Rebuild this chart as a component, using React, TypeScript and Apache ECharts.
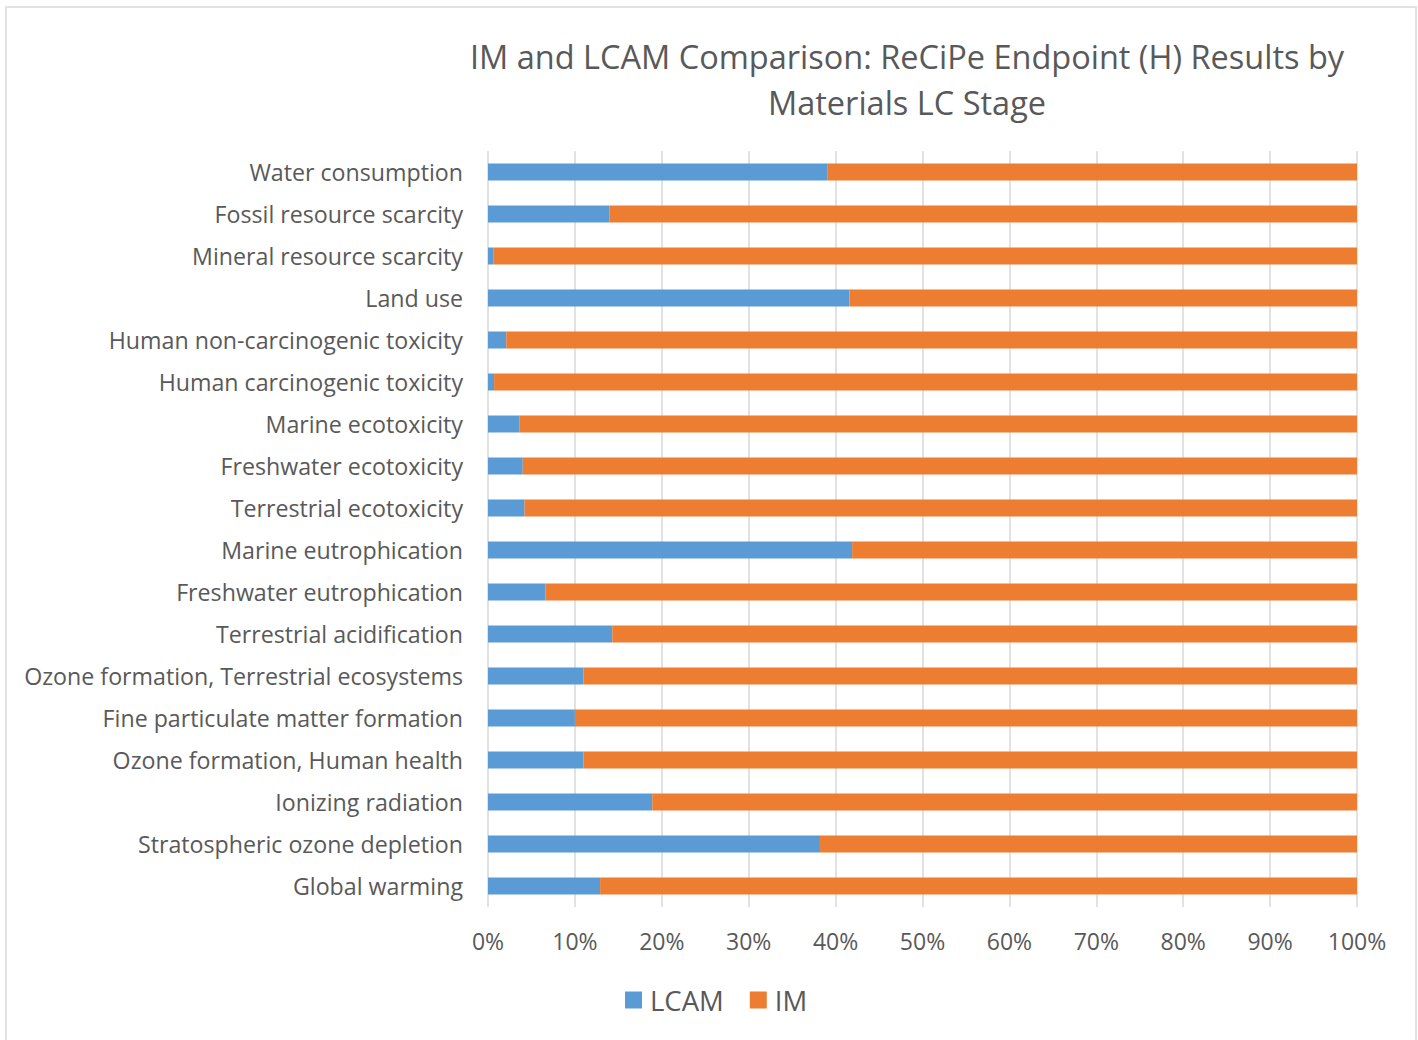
import React, { useEffect, useRef } from "react";
import * as echarts from "echarts";

// Impact categories, listed top to bottom as drawn
const categories = [
  "Water consumption",
  "Fossil resource scarcity",
  "Mineral resource scarcity",
  "Land use",
  "Human non-carcinogenic toxicity",
  "Human carcinogenic toxicity",
  "Marine ecotoxicity",
  "Freshwater ecotoxicity",
  "Terrestrial ecotoxicity",
  "Marine eutrophication",
  "Freshwater eutrophication",
  "Terrestrial acidification",
  "Ozone formation, Terrestrial ecosystems",
  "Fine particulate matter formation",
  "Ozone formation, Human health",
  "Ionizing radiation",
  "Stratospheric ozone depletion",
  "Global warming",
];

// Share of each category's result (%)
const lcamShare = [39.1, 14.0, 0.6, 41.6, 2.1, 0.7, 3.6, 4.0, 4.2, 41.9, 6.6, 14.3, 11.0, 10.0, 11.0, 18.9, 38.2, 12.9];
const imShare = [60.9, 86.0, 99.4, 58.4, 97.9, 99.3, 96.4, 96.0, 95.8, 58.1, 93.4, 85.7, 89.0, 90.0, 89.0, 81.1, 61.8, 87.1];

const seriesNames = ["LCAM", "IM"];
const titleLines = ["IM and LCAM Comparison: ReCiPe Endpoint (H) Results by", "Materials LC Stage"];

const FONT = "'Open Sans', 'Noto Sans', sans-serif";
const TEXT = "#595959";

export default function App() {
  const ref = useRef<HTMLDivElement>(null);

  useEffect(() => {
    if (!ref.current) return;
    const chart = echarts.init(ref.current, null, { renderer: "svg" });
    chart.setOption({
      animation: false,
      backgroundColor: "#ffffff",
      textStyle: { fontFamily: FONT },
      graphic: [
        {
          type: "rect",
          z: -10,
          silent: true,
          shape: { x: 6, y: 7, width: 1410, height: 1060 },
          style: { fill: "none", stroke: "#d9d9d9", lineWidth: 1.5 },
        },
        {
          type: "text",
          x: 907,
          y: 33,
          style: {
            text: titleLines.join("\n"),
            fill: TEXT,
            font: `32.5px ${FONT}`,
            lineHeight: 46,
            align: "center",
            verticalAlign: "top",
          },
        },
      ],
      legend: {
        data: seriesNames,
        left: 620,
        top: 981,
        icon: "rect",
        itemWidth: 17,
        itemHeight: 17,
        itemGap: 26,
        textStyle: { color: TEXT, fontSize: 27.5, fontFamily: FONT, padding: [0, 0, 0, 3] },
      },
      grid: {
        left: 488,
        right: 61,
        top: 151,
        bottom: 133,
        outerBoundsMode: "none",
        containLabel: false,
      },
      xAxis: {
        type: "value",
        min: 0,
        max: 100,
        interval: 10,
        axisLine: { show: false },
        axisTick: { show: false },
        splitLine: { show: true, lineStyle: { color: "#d9d9d9", width: 1.5 } },
        axisLabel: {
          formatter: "{value}%",
          color: TEXT,
          fontSize: 23,
          fontFamily: FONT,
          margin: 22,
        },
      },
      yAxis: {
        type: "category",
        inverse: true,
        data: categories,
        axisLine: { show: false },
        axisTick: { show: false },
        axisLabel: { color: TEXT, fontSize: 23.2, fontFamily: FONT, margin: 25 },
      },
      series: [
        {
          name: seriesNames[0],
          type: "bar",
          stack: "total",
          data: lcamShare,
          barWidth: 17,
          itemStyle: { color: "#5b9bd5" },
        },
        {
          name: seriesNames[1],
          type: "bar",
          stack: "total",
          data: imShare,
          barWidth: 17,
          itemStyle: { color: "#ed7d31" },
        },
      ],
    });
    return () => chart.dispose();
  }, []);

  return (
    <div
      ref={ref}
      style={{ position: "absolute", left: 0, top: 0, width: 1418, height: 1040, background: "#fff" }}
    />
  );
}
